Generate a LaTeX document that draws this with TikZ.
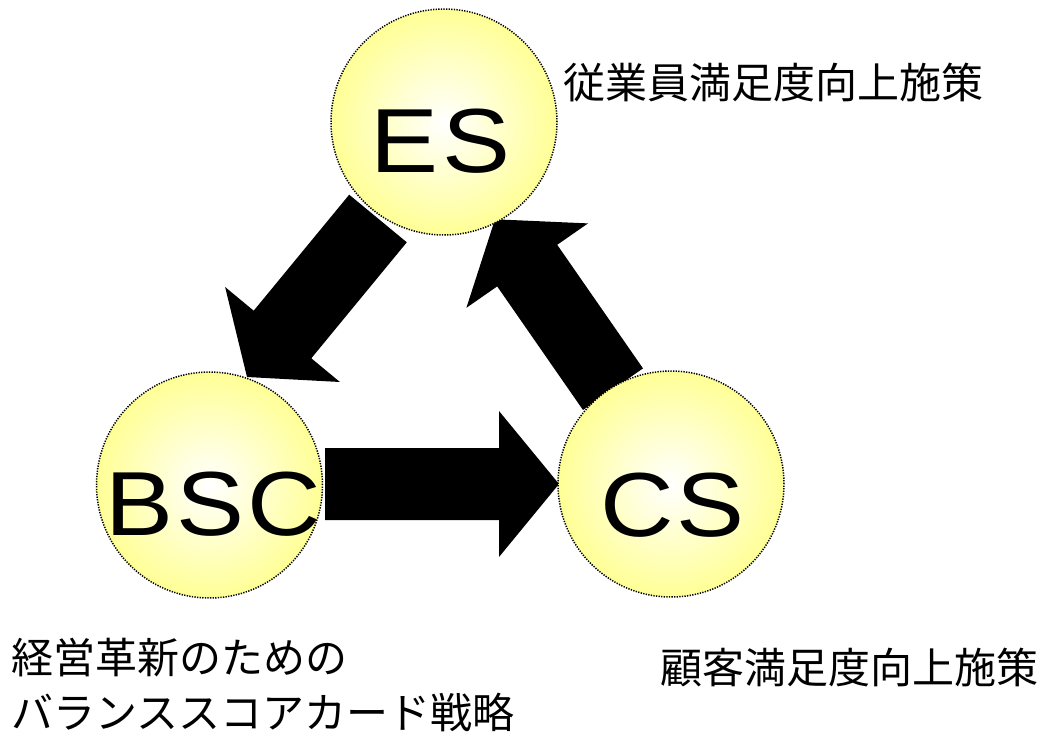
\documentclass[tikz,border=0pt]{standalone}
\usepackage{graphicx}
\usepackage{fontspec}
\setmainfont{Liberation Sans}
\newfontfamily\jp{Noto Sans CJK JP}
\definecolor{ballyellow}{RGB}{255,255,150}
\pgfdeclareradialshading{ballshade}{\pgfpointorigin}{color(0bp)=(white); color(25bp)=(ballyellow); color(50bp)=(ballyellow)}
\newcommand{\widelbl}[1]{\scalebox{1.12}[1]{#1}}
\begin{document}
\begin{tikzpicture}[x=1pt,y=-1pt,
  ball/.style={circle, minimum size=226pt, inner sep=0pt, shading=ballshade,
    draw=black, line width=1.5pt, dash pattern=on 1.3pt off 1.3pt},
  big/.style={font=\fontsize{91}{91}\selectfont, inner sep=0pt, anchor=base},
  jtext/.style={font=\jp\fontsize{42}{42}\selectfont, inner sep=0pt, anchor=base west},
  blk/.style={fill=black}]
\useasboundingbox (0,0) rectangle (1047,735);
% block arrows (behind the circles)
\fill[blk] (349.2,194.7) -- (253.7,310.7) -- (225.1,287) -- (247,377)
  -- (339.9,382) -- (311.3,358.3) -- (406.8,242.3) -- cycle;
\fill[blk] (583,410) -- (497.2,286.4) -- (466.4,307.8) -- (495,219.3)
  -- (588,223.4) -- (557.2,244.8) -- (643,368.4) -- cycle;
\fill[blk] (325,448) -- (499,448) -- (499,411) -- (559,484)
  -- (499,557) -- (499,520) -- (325,520) -- cycle;
% circles
\node[ball] (es) at (444,122) {};
\node[ball] (bsc) at (209.5,485) {};
\node[ball] (cs) at (671,484) {};
% circle labels
\node[big] (est) at (440.5,173) {\widelbl{E\kern3pt S}};
\node[big] (bsct) at (213.5,535) {\widelbl{B\kern3pt S\kern3pt C}};
\node[big] (cst) at (672.5,536.7) {\widelbl{C\kern2pt S}};
% captions
\node[jtext] (t1) at (563,99) {従業員満足度向上施策};
\node[jtext] (t2) at (660,683) {顧客満足度向上施策};
\node[jtext] (t3) at (11,673) {経営革新のための};
\node[jtext] (t4) at (11,728) {バランススコアカード戦略};
\end{tikzpicture}
\end{document}
